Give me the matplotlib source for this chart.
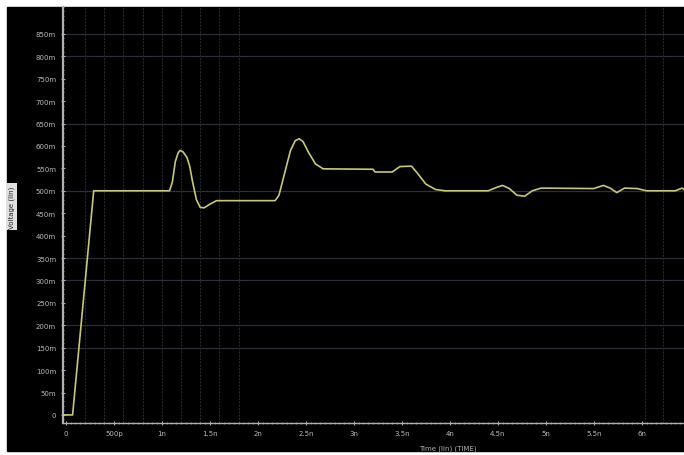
import matplotlib.pyplot as plt
from matplotlib.ticker import FixedLocator, AutoMinorLocator
from matplotlib.patches import Rectangle

# time in ns, voltage in mV
t_ns = [-0.03, 0.07, 0.29, 1.08, 1.11, 1.14, 1.17, 1.19, 1.22, 1.26, 1.29, 1.32, 1.36,
        1.40, 1.44, 1.50, 1.57, 2.18, 2.22, 2.28, 2.34, 2.39, 2.43, 2.47, 2.53, 2.60,
        2.68, 3.20, 3.22, 3.40, 3.48, 3.60, 3.66, 3.75, 3.85, 3.95, 4.40, 4.48, 4.55,
        4.62, 4.70, 4.78, 4.86, 4.95, 5.50, 5.60, 5.67, 5.74, 5.82, 5.95, 6.05, 6.35,
        6.42, 6.44]
v_mv = [0, 0, 500, 500, 520, 565, 585, 590, 587, 575, 555, 520, 480,
        463, 462, 470, 478, 478, 490, 540, 590, 612, 616, 610, 585, 560,
        549, 548, 542, 542, 554, 555, 540, 515, 503, 500, 500, 507, 512,
        505, 490, 488, 500, 506, 505, 512, 506, 496, 506, 505, 500, 500,
        506, 503]

y_ticks = list(range(0, 851, 50))
y_labels = ["0"] + [f"{v}m" for v in y_ticks[1:]]
x_ticks = [0, 0.5, 1, 1.5, 2, 2.5, 3, 3.5, 4, 4.5, 5, 5.5, 6]
x_labels = ["0", "500p", "1n", "1.5n", "2n", "2.5n", "3n", "3.5n", "4n", "4.5n", "5n", "5.5n", "6n"]
h_grid = [850, 800, 650, 500, 350, 300, 200, 150]
v_grid = [0.2, 0.4, 0.6, 0.8, 1.0, 1.2, 1.4, 1.6, 1.8, 6.03, 6.22]

fig = plt.figure(figsize=(6.84, 4.56), dpi=100, facecolor="white")
bg = Rectangle((7 / 684, 4 / 456), 1, 1 - 12 / 456,
               transform=fig.transFigure, color="black", zorder=-10)
fig.patches.append(bg)
ax = fig.add_axes([63 / 684, 32 / 456, 1 - 63 / 684, 1 - 40 / 456])
ax.set_zorder(5)
ax.set_facecolor("black")

for y in h_grid:
    ax.axhline(y, color="#2e2e38", lw=0.9, zorder=0.5)
for x in v_grid:
    ax.axvline(x, color="#26262e", lw=0.8, ls=(0, (2, 1)), zorder=0.5)

ax.plot(t_ns, v_mv, color="#c8c878", lw=1.2, zorder=3)

ax.set_xlim(-0.03, 6.44)
ax.set_ylim(-18, 910)

ax.yaxis.set_major_locator(FixedLocator(y_ticks))
ax.set_yticklabels(y_labels)
ax.xaxis.set_major_locator(FixedLocator(x_ticks))
ax.set_xticklabels(x_labels)
ax.xaxis.set_minor_locator(AutoMinorLocator(10))
ax.yaxis.set_minor_locator(AutoMinorLocator(5))

ax.tick_params(axis="both", which="major", colors="#aaaaaa", labelcolor="#bbbbbb",
               labelsize=5, length=3, direction="inout")
ax.tick_params(axis="both", which="minor", colors="#888888", length=2, direction="inout")

for side in ["top", "right"]:
    ax.spines[side].set_visible(False)
ax.spines["left"].set_color("#b0b0b0")
ax.spines["left"].set_linewidth(1.6)
ax.spines["bottom"].set_color("#b0b0b0")
ax.spines["bottom"].set_linewidth(1.0)

ax.set_xlabel("Time (lin) (TIME)", color="#b0b0b0", fontsize=5, labelpad=2)
ax.xaxis.set_label_coords(0.62, -0.052)
ax.set_ylabel("Voltage (lin)", color="#222222", fontsize=5,
              bbox=dict(boxstyle="square,pad=0.3", fc="#e0e0e0", ec="none"))
ax.yaxis.set_label_coords(-0.078, 0.52)

fig.savefig("out.png", dpi=100, facecolor=fig.get_facecolor())
